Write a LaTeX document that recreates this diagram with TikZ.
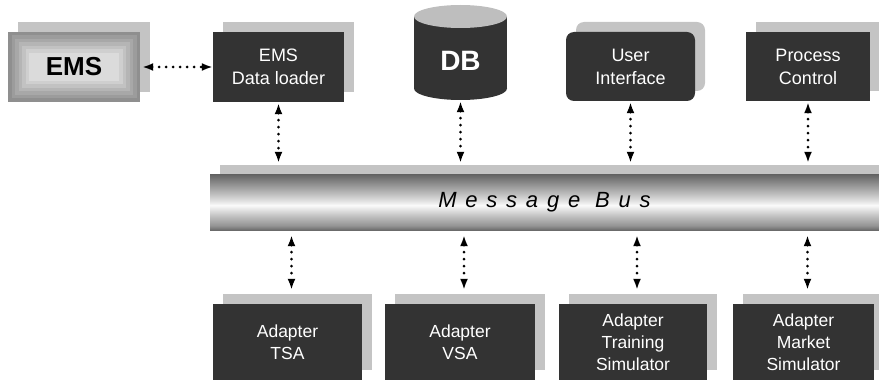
\documentclass[tikz,border=0pt]{standalone}
\usepackage{fontspec}
\setmainfont{Liberation Sans}
\usetikzlibrary{arrows.meta,shadows}
\definecolor{boxgray}{RGB}{51,51,51}
\definecolor{shadowgray}{RGB}{196,196,196}
\definecolor{dbtop}{RGB}{190,190,190}
\pgfdeclareverticalshading{busshade}{100bp}{color(0bp)=(black!58); color(25bp)=(black!58); color(29bp)=(black!42); color(37.5bp)=(black!25); color(47.5bp)=(black!2); color(52.5bp)=(black!14); color(62.5bp)=(black!35); color(71bp)=(black!52); color(75bp)=(black!60); color(100bp)=(black!60)}

\begin{document}
\begin{tikzpicture}[x=1pt,y=1pt,
	unit/.style={rectangle, fill=boxgray, text=white, align=center, inner sep=0pt, font=\fontsize{18}{23}\selectfont, general shadow={fill=shadowgray, shadow xshift=10pt, shadow yshift=10pt}},
	adapter/.style={unit, minimum height=76pt, font=\fontsize{17.5}{22}\selectfont},
	link/.style={line width=3pt, dash pattern=on 0pt off 7pt, line cap=round, {Latex[length=11pt,width=8pt]}-{Latex[length=11pt,width=8pt]}}]
		\useasboundingbox (0,0) rectangle (879,381);
		\node[unit, fill=none, text=black, minimum width=132pt, minimum height=70pt, font=\fontsize{26}{30}\selectfont\bfseries, path picture={
			\foreach \i [evaluate=\i as \lev using int(44-5*\i)] in {0,...,6}
				\fill[black!\lev] ([shift={(\i*3.5pt,\i*3.5pt)}]path picture bounding box.south west) rectangle ([shift={(-\i*3.5pt,-\i*3.5pt)}]path picture bounding box.north east);}] (ems) at (74,314) {EMS};
		\node[unit, minimum width=131pt, minimum height=70pt] (loader) at (278.5,314) {EMS\\Data loader};
		\node[inner sep=0pt, minimum width=93pt, minimum height=95pt, path picture={
			\fill[boxgray] ([yshift=-11.5pt]path picture bounding box.north west) rectangle ([yshift=11.5pt]path picture bounding box.south east);
			\fill[boxgray] ([yshift=11.5pt]path picture bounding box.south) ellipse (46.5 and 11.5);
			\fill[dbtop] ([yshift=-11.5pt]path picture bounding box.north) ellipse (46.5 and 11.5);}] (db) at (460.5,328.5) {};
		\node[text=white, font=\fontsize{28}{30}\selectfont\bfseries] (dblabel) at ([yshift=-8pt]db.center) {DB};
		\node[unit, rounded corners=8pt, minimum width=129pt, minimum height=69pt] (ui) at (630.5,314.5) {User\\Interface};
		\node[unit, minimum width=124pt, minimum height=69pt] (pc) at (808,314.5) {Process\\Control};
		\node[unit, shading=busshade, text=black, minimum width=669pt, minimum height=55pt, font=\fontsize{22}{24}\selectfont\itshape\addfontfeature{LetterSpace=40}] (bus) at (544.5,178.5) {Message Bus};
		\node[adapter, minimum width=149pt] (tsa) at (287.5,39) {Adapter\\TSA};
		\node[adapter, minimum width=150pt] (vsa) at (460,39) {Adapter\\VSA};
		\node[adapter, minimum width=148pt] (train) at (633,39) {Adapter\\Training\\Simulator};
		\node[adapter, minimum width=141pt] (market) at (803.5,39) {Adapter\\Market\\Simulator};
		\draw[link, shorten <=2pt] (ems.east) -- (loader.west);
		\foreach \n in {loader,db,ui,pc}
			\draw[link, shorten <=1pt, shorten >=12pt] (\n.south) -- (\n.south |- bus.north);
		\foreach \n in {tsa,vsa,train,market}{
			\coordinate (\n in) at ([xshift=4pt]\n.north);
			\draw[link, shorten <=5pt, shorten >=14pt] (\n in |- bus.south) -- (\n in);
		}
	\end{tikzpicture}
\end{document}
